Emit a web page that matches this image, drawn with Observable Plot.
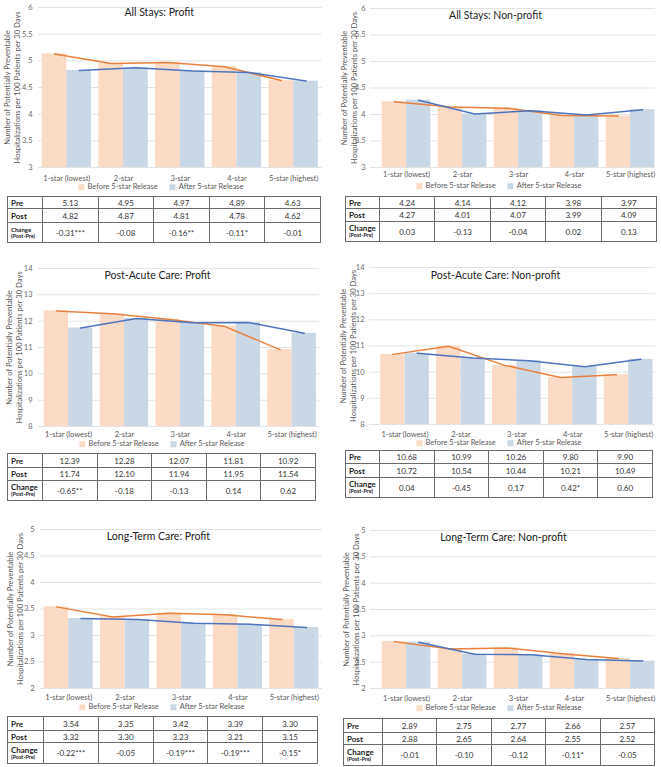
<!DOCTYPE html>
<html><head><meta charset="utf-8">
<script src="https://cdn.jsdelivr.net/npm/d3@7"></script>
<script src="https://cdn.jsdelivr.net/npm/@observablehq/plot@0.6"></script>
<style>
body{margin:0;background:#fff;font-family:Lato,"Open Sans",sans-serif;}
#root{position:relative;width:661px;height:767px;overflow:hidden;background:#fff;}
.psvg{position:absolute;}
.legend{position:absolute;font-size:7.5px;color:#595959;white-space:nowrap;transform:translate(-50%,-50%);line-height:1;}
.legend span.item{margin:0 6px;}
.sw{display:inline-block;width:6px;height:6px;margin-right:3px;vertical-align:-0.5px;}
table.tbl{position:absolute;border-collapse:collapse;table-layout:fixed;font-size:8px;color:#333;background:#fff;}
table.tbl td{border:1px solid #6a6a6a;text-align:center;padding:0;line-height:1;overflow:hidden;}
table.tbl td.h{text-align:left;font-weight:bold;padding-left:3px;color:#222;}
table.tbl td.h small{font-size:5.5px;display:block;margin-top:1px;}
</style></head>
<body><div id="root"></div>
<script>
// ---------- data ----------
const categories = ["1-star (lowest)", "2-star", "3-star", "4-star", "5-star (highest)"];
const seriesNames = ["Before 5-star Release", "After 5-star Release"];
const axisTitle = ["Number of Potentially Preventable", "Hospitalizations per 100 Patients per 30 Days"];
const rowLabels = ["Pre", "Post", "Change", "(Post-Pre)"];

const titles = ["All Stays: Profit", "All Stays: Non-profit", "Post-Acute Care: Profit",
                "Post-Acute Care: Non-profit", "Long-Term Care: Profit", "Long-Term Care: Non-profit"];

const allStaysProfitPre  = [5.13, 4.95, 4.97, 4.89, 4.63];
const allStaysProfitPost = [4.82, 4.87, 4.81, 4.78, 4.62];
const allStaysProfitChange = ["-0.31***", "-0.08", "-0.16**", "-0.11*", "-0.01"];

const allStaysNonprofitPre  = [4.24, 4.14, 4.12, 3.98, 3.97];
const allStaysNonprofitPost = [4.27, 4.01, 4.07, 3.99, 4.09];
const allStaysNonprofitChange = ["0.03", "-0.13", "-0.04", "0.02", "0.13"];

const postAcuteProfitPre  = [12.39, 12.28, 12.07, 11.81, 10.92];
const postAcuteProfitPost = [11.74, 12.10, 11.94, 11.95, 11.54];
const postAcuteProfitChange = ["-0.65**", "-0.18", "-0.13", "0.14", "0.62"];

const postAcuteNonprofitPre  = [10.68, 10.99, 10.26, 9.80, 9.90];
const postAcuteNonprofitPost = [10.72, 10.54, 10.44, 10.21, 10.49];
const postAcuteNonprofitChange = ["0.04", "-0.45", "0.17", "0.42*", "0.60"];

const longTermProfitPre  = [3.54, 3.35, 3.42, 3.39, 3.30];
const longTermProfitPost = [3.32, 3.30, 3.23, 3.21, 3.15];
const longTermProfitChange = ["-0.22***", "-0.05", "-0.19***", "-0.19***", "-0.15*"];

const longTermNonprofitPre  = [2.89, 2.75, 2.77, 2.66, 2.57];
const longTermNonprofitPost = [2.88, 2.65, 2.64, 2.55, 2.52];
const longTermNonprofitChange = ["-0.01", "-0.10", "-0.12", "-0.11*", "-0.05"];

const allStaysTicks  = [3, 3.5, 4, 4.5, 5, 5.5, 6];
const postAcuteTicks = [8, 9, 10, 11, 12, 13, 14];
const longTermTicks  = [2, 2.5, 3, 3.5, 4, 4.5, 5];

// ---------- style ----------
const FONT = "Lato, 'Open Sans', sans-serif";
const PRE_FILL = "#fbdbc5", POST_FILL = "#c9d8e4";
const ORANGE = "#e8813f", BLUE = "#4f74bd";
const HALF = 0.435;

const panels = [
  {title: titles[0], pre: allStaysProfitPre, post: allStaysProfitPost, change: allStaysProfitChange, ticks: allStaysTicks,
   left: 0, top: 0, width: 330, mT: 7, plotH: 160, mL: 38, mR: 8.5, xDomain: [-0.5, 4.5], tickPad: 6, catPad: 8,
   titleDx: -21, titleDy: 5, atDx: -27, legX: 161, legY: 187,
   tbl: {top: 196, left: 7, width: 314, first: 35, rows: [12, 14, 20]}, smallChange: true},
  {title: titles[1], pre: allStaysNonprofitPre, post: allStaysNonprofitPost, change: allStaysNonprofitChange, ticks: allStaysTicks,
   left: 330, top: 0, width: 331, mT: 8, plotH: 159, mL: 40, mR: 6, xDomain: [-0.643, 4.446], tickPad: 5, catPad: 4,
   titleDx: -17.5, titleDy: 7, atDx: -22, legX: 499, legY: 186,
   tbl: {top: 196, left: 345, width: 312, first: 34, rows: [12, 13, 20]}},
  {title: titles[2], pre: postAcuteProfitPre, post: postAcuteProfitPost, change: postAcuteProfitChange, ticks: postAcuteTicks,
   left: 0, top: 250, width: 330, mT: 18, plotH: 158, mL: 38, mR: 11, xDomain: [-0.537, 4.49], tickPad: 6, catPad: 5,
   titleDx: -21.5, titleDy: 7, atDx: -25, legX: 162, legY: 444,
   tbl: {top: 453, left: 7, width: 309, first: 35, rows: [14, 13, 20]}},
  {title: titles[3], pre: postAcuteNonprofitPre, post: postAcuteNonprofitPost, change: postAcuteNonprofitChange, ticks: postAcuteTicks,
   left: 330, top: 250, width: 331, mT: 17, plotH: 157, mL: 39, mR: 6, xDomain: [-0.635, 4.48], tickPad: 5, catPad: 7,
   titleDx: -17, titleDy: 8, atDx: -21.5, legX: 499, legY: 443,
   tbl: {top: 450, left: 345, width: 308, first: 34, rows: [13, 14, 20]}},
  {title: titles[4], pre: longTermProfitPre, post: longTermProfitPost, change: longTermProfitChange, ticks: longTermTicks,
   left: 0, top: 510, width: 330, mT: 19, plotH: 159, mL: 40, mR: 8, xDomain: [-0.5, 4.5], tickPad: 6, catPad: 6,
   titleDx: -23, titleDy: 7, atDx: -26, legX: 162, legY: 707,
   tbl: {top: 716, left: 7, width: 311, first: 36, rows: [14, 12, 21]}},
  {title: titles[5], pre: longTermNonprofitPre, post: longTermNonprofitPost, change: longTermNonprofitChange, ticks: longTermTicks,
   left: 330, top: 510, width: 331, mT: 20, plotH: 158, mL: 40, mR: 6, xDomain: [-0.643, 4.446], tickPad: 5, catPad: 7,
   titleDx: -9.5, titleDy: 7, atDx: -20, legX: 499, legY: 708,
   tbl: {top: 718, left: 343, width: 312, first: 39, rows: [14, 12, 21]}}
];

const root = document.getElementById("root");

for (const p of panels) {
  const rows = categories.map((c, i) => ({i, cat: c, pre: p.pre[i], post: p.post[i]}));
  const lo = p.ticks[0], hi = p.ticks[p.ticks.length - 1];
  const mB = 16;
  const svg = Plot.plot({
    width: p.width,
    height: p.mT + p.plotH + mB,
    marginTop: p.mT, marginBottom: mB, marginLeft: p.mL, marginRight: p.mR,
    style: {fontFamily: FONT, fontSize: "7.5px", background: "transparent", overflow: "visible"},
    x: {type: "linear", domain: p.xDomain, axis: null},
    y: {domain: [lo, hi], axis: null},
    marks: [
      Plot.gridY(p.ticks, {stroke: "#dcdcdc", strokeOpacity: 1, strokeWidth: 0.8}),
      Plot.rect(rows, {x1: d => d.i - HALF, x2: d => d.i, y1: () => lo, y2: "pre", fill: PRE_FILL}),
      Plot.rect(rows, {x1: d => d.i, x2: d => d.i + HALF, y1: () => lo, y2: "post", fill: POST_FILL}),
      Plot.line(rows, {x: d => d.i - HALF / 2, y: "pre", stroke: ORANGE, strokeWidth: 1.5}),
      Plot.line(rows, {x: d => d.i + HALF / 2, y: "post", stroke: BLUE, strokeWidth: 1.5}),
      Plot.axisY(p.ticks, {tickSize: 0, tickPadding: p.tickPad, tickFormat: d => String(d), fill: "#6b6b6b", label: null}),
      Plot.axisX(d3.range(categories.length), {tickSize: 0, tickPadding: p.catPad, tickFormat: i => categories[i], fill: "#595959", label: null}),
      Plot.text([p.title], {frameAnchor: "top", lineAnchor: "middle", dx: p.titleDx, dy: p.titleDy, fontSize: 10.5, fill: "#222"}),
      Plot.text([axisTitle.join("\n")], {frameAnchor: "left", rotate: -90, lineAnchor: "middle", textAnchor: "middle",
        dx: p.atDx, fontSize: 7.6, lineHeight: 1.35, fill: "#595959"})
    ]
  });
  svg.classList.add("psvg");
  svg.style.left = p.left + "px";
  svg.style.top = p.top + "px";
  root.appendChild(svg);

  // legend
  const leg = document.createElement("div");
  leg.className = "legend";
  leg.style.left = p.legX + "px";
  leg.style.top = p.legY + "px";
  leg.innerHTML = `<span class="item"><span class="sw" style="background:${PRE_FILL}"></span>${seriesNames[0]}</span>` +
                  `<span class="item"><span class="sw" style="background:${POST_FILL}"></span>${seriesNames[1]}</span>`;
  root.appendChild(leg);

  // table
  const t = p.tbl;
  const tbl = document.createElement("table");
  tbl.className = "tbl";
  tbl.style.left = t.left + "px";
  tbl.style.top = t.top + "px";
  tbl.style.width = t.width + "px";
  let html = `<colgroup><col style="width:${t.first}px">` + categories.map(() => "<col>").join("") + "</colgroup>";
  const vals = [p.pre.map(v => v.toFixed(2)), p.post.map(v => v.toFixed(2)), p.change];
  const chFs = p.smallChange ? "font-size:6px;" : "";
  const heads = [rowLabels[0], rowLabels[1], `<span style="${chFs}">${rowLabels[2]}</span><small>${rowLabels[3]}</small>`];
  vals.forEach((r, k) => {
    html += `<tr style="height:${t.rows[k]}px"><td class="h">${heads[k]}</td>` + r.map(v => `<td>${v}</td>`).join("") + "</tr>";
  });
  tbl.innerHTML = html;
  root.appendChild(tbl);
}
</script>
</body></html>
